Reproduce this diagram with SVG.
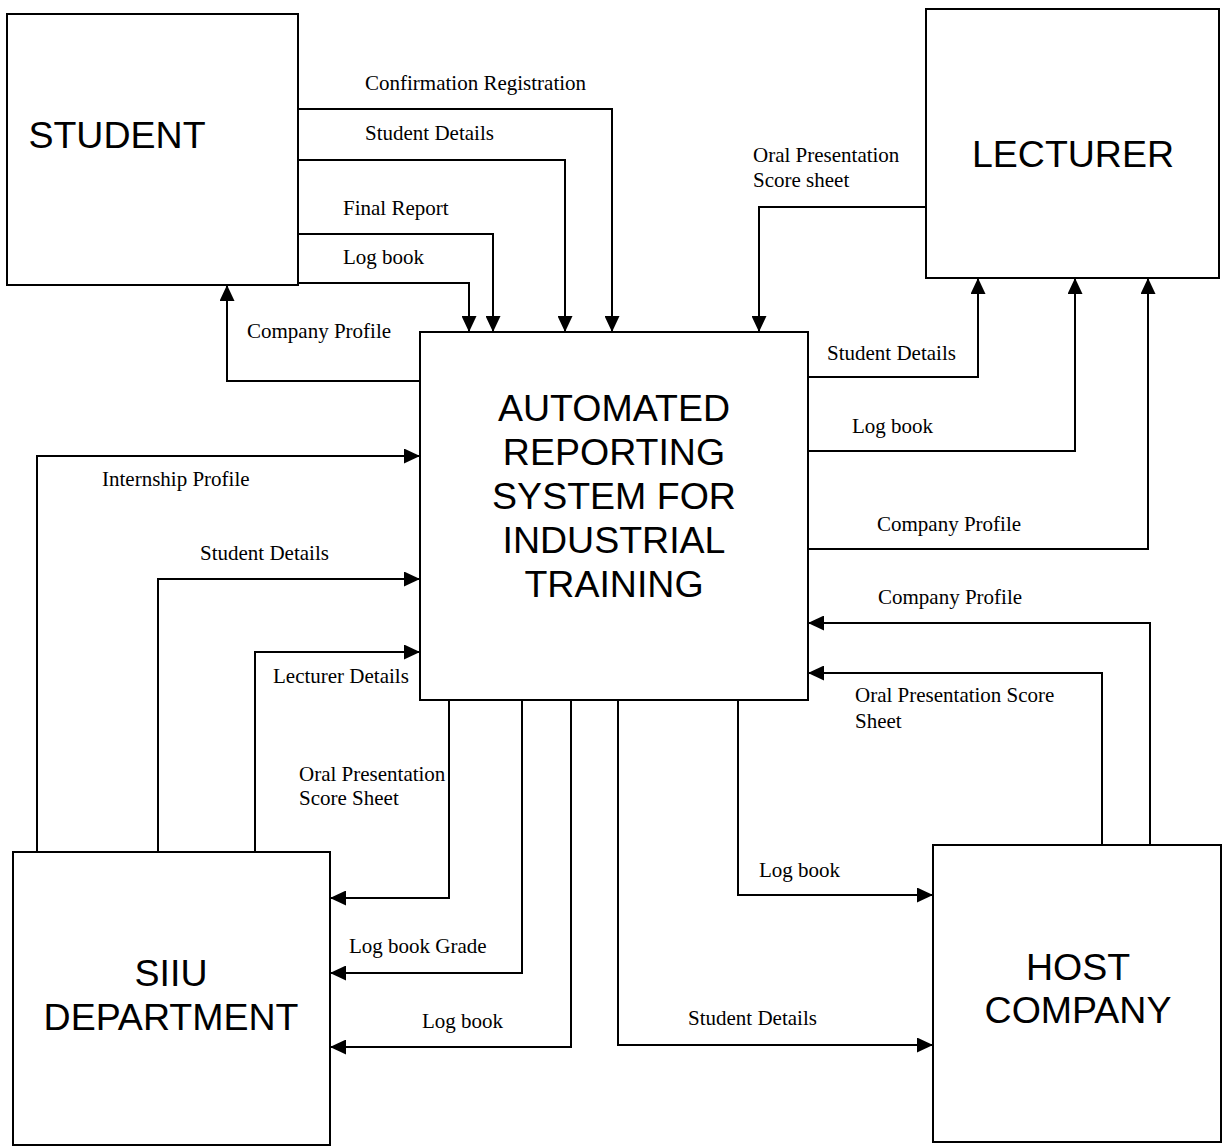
<svg xmlns="http://www.w3.org/2000/svg" width="1223" height="1146" viewBox="0 0 1223 1146">
<style>
.box{fill:#fff;stroke:#000;stroke-width:2}
.big{font-family:"Liberation Sans",Arial,sans-serif;font-size:37.5px;fill:#000;text-anchor:middle}
.lbl{font-family:"Liberation Serif","Times New Roman",serif;font-size:21px;fill:#000}
.c{fill:none;stroke:#000;stroke-width:2}
</style>
<defs>
<marker id="ah" markerUnits="userSpaceOnUse" markerWidth="17" markerHeight="15" refX="16" refY="7.5" orient="auto">
<path d="M0,0 L16,7.5 L0,15 Z" fill="#000"/>
</marker>
</defs>
<rect width="1223" height="1146" fill="#fff"/>
<g id="connectors">
<polyline class="c" points="298,109 612,109 612,332" marker-end="url(#ah)"/>
<polyline class="c" points="298,160 565,160 565,332" marker-end="url(#ah)"/>
<polyline class="c" points="298,234 493,234 493,332" marker-end="url(#ah)"/>
<polyline class="c" points="298,283 469,283 469,332" marker-end="url(#ah)"/>
<polyline class="c" points="926,207 759,207 759,332" marker-end="url(#ah)"/>
<polyline class="c" points="420,381 227,381 227,285" marker-end="url(#ah)"/>
<polyline class="c" points="37,852 37,456 420,456" marker-end="url(#ah)"/>
<polyline class="c" points="158,852 158,579 420,579" marker-end="url(#ah)"/>
<polyline class="c" points="255,852 255,652 420,652" marker-end="url(#ah)"/>
<polyline class="c" points="808,377 978,377 978,278" marker-end="url(#ah)"/>
<polyline class="c" points="808,451 1075,451 1075,278" marker-end="url(#ah)"/>
<polyline class="c" points="808,549 1148,549 1148,278" marker-end="url(#ah)"/>
<polyline class="c" points="1150,845 1150,623 808,623" marker-end="url(#ah)"/>
<polyline class="c" points="1102,845 1102,673 808,673" marker-end="url(#ah)"/>
<polyline class="c" points="449,700 449,898 330,898" marker-end="url(#ah)"/>
<polyline class="c" points="522,700 522,973 330,973" marker-end="url(#ah)"/>
<polyline class="c" points="571,700 571,1047 330,1047" marker-end="url(#ah)"/>
<polyline class="c" points="618,700 618,1045 933,1045" marker-end="url(#ah)"/>
<polyline class="c" points="738,700 738,895 933,895" marker-end="url(#ah)"/>
<text class="lbl" x="365" y="90">Confirmation Registration</text>
<text class="lbl" x="365" y="140">Student Details</text>
<text class="lbl" x="343" y="215">Final Report</text>
<text class="lbl" x="343" y="264">Log book</text>
<text class="lbl" x="247" y="338">Company Profile</text>
<text class="lbl" x="753" y="162">Oral Presentation</text>
<text class="lbl" x="753" y="187">Score sheet</text>
<text class="lbl" x="827" y="360">Student Details</text>
<text class="lbl" x="852" y="433">Log book</text>
<text class="lbl" x="877" y="531">Company Profile</text>
<text class="lbl" x="878" y="604">Company Profile</text>
<text class="lbl" x="855" y="702">Oral Presentation Score</text>
<text class="lbl" x="855" y="728">Sheet</text>
<text class="lbl" x="102" y="486">Internship Profile</text>
<text class="lbl" x="200" y="560">Student Details</text>
<text class="lbl" x="273" y="683">Lecturer Details</text>
<text class="lbl" x="299" y="781">Oral Presentation</text>
<text class="lbl" x="299" y="805">Score Sheet</text>
<text class="lbl" x="349" y="953">Log book Grade</text>
<text class="lbl" x="422" y="1028">Log book</text>
<text class="lbl" x="759" y="877">Log book</text>
<text class="lbl" x="688" y="1025">Student Details</text>
</g>
<g id="student">
<rect class="box" x="7" y="14" width="291" height="271"/>
<text class="big" x="117" y="148">STUDENT</text>
</g>
<g id="lecturer">
<rect class="box" x="926" y="9" width="293" height="269"/>
<text class="big" x="1073" y="167">LECTURER</text>
</g>
<g id="system">
<rect class="box" x="420" y="332" width="388" height="368"/>
<text class="big" x="614" y="421">AUTOMATED</text>
<text class="big" x="614" y="465">REPORTING</text>
<text class="big" x="614" y="509">SYSTEM FOR</text>
<text class="big" x="614" y="553">INDUSTRIAL</text>
<text class="big" x="614" y="597">TRAINING</text>
</g>
<g id="siiu">
<rect class="box" x="13" y="852" width="317" height="293"/>
<text class="big" x="171" y="986">SIIU</text>
<text class="big" x="171" y="1030">DEPARTMENT</text>
</g>
<g id="host">
<rect class="box" x="933" y="845" width="288" height="297"/>
<text class="big" x="1078" y="980">HOST</text>
<text class="big" x="1078" y="1023">COMPANY</text>
</g>
</svg>
